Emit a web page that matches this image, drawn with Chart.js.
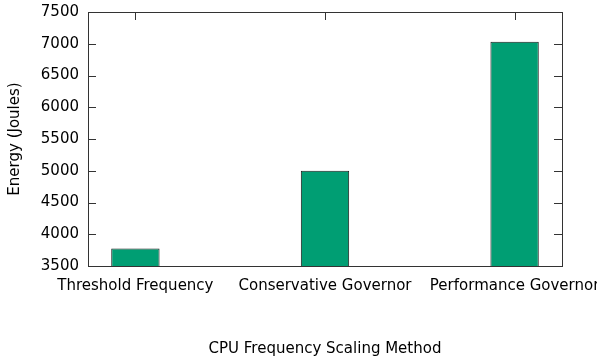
<!DOCTYPE html>
<html>
<head>
<meta charset="utf-8">
<script src="https://cdn.jsdelivr.net/npm/chart.js@4/dist/chart.umd.min.js"></script>
<style>
  html, body { margin: 0; padding: 0; background: #fff; }
  #wrap { width: 597px; height: 362px; position: relative; }
</style>
</head>
<body>
<div id="wrap"><canvas id="c" width="597" height="362"></canvas></div>
<script>
const categories = ["Threshold Frequency", "Conservative Governor", "Performance Governor"];
const energy = [3775, 5000, 7030];
const yTicks = [3500, 4000, 4500, 5000, 5500, 6000, 6500, 7000, 7500];
const xTitle = "CPU Frequency Scaling Method";
const yTitle = "Energy (Joules)";

const FONT = { family: "'DejaVu Sans', sans-serif", size: 15 };

const frame = {
  id: 'frame',
  beforeDatasetsDraw(chart) {
    const { ctx, chartArea: a, scales: { x, y } } = chart;
    ctx.save();
    ctx.strokeStyle = '#333';
    ctx.lineWidth = 1;
    ctx.beginPath();
    y.ticks.forEach(t => {
      const py = Math.round(y.getPixelForValue(t.value)) + 0.5;
      ctx.moveTo(a.left, py); ctx.lineTo(a.left + 8, py);
      ctx.moveTo(a.right, py); ctx.lineTo(a.right - 8, py);
    });
    x.ticks.forEach(t => {
      const px = Math.round(x.getPixelForValue(t.value)) + 0.5;
      ctx.moveTo(px, a.top); ctx.lineTo(px, a.top + 8);
      ctx.moveTo(px, a.bottom); ctx.lineTo(px, a.bottom - 8);
    });
    ctx.stroke();
    ctx.restore();
  },
  afterDatasetsDraw(chart) {
    const { ctx, chartArea: a } = chart;
    ctx.save();
    ctx.strokeStyle = '#333';
    ctx.lineWidth = 1;
    const l = Math.floor(a.left) + 0.5, t = Math.floor(a.top) + 0.5;
    const r = Math.floor(a.right) + 0.5, b = Math.floor(a.bottom) + 0.5;
    ctx.strokeRect(l, t, r - l, b - t);
    ctx.restore();
  }
};

new Chart(document.getElementById('c'), {
  type: 'bar',
  data: {
    datasets: [{
      data: energy.map((v, i) => ({ x: i, y: v })),
      backgroundColor: '#009E73',
      borderColor: '#1a1a1a',
      borderWidth: 1,
      borderSkipped: false,
      categoryPercentage: 1,
      barPercentage: 0.255
    }]
  },
  options: {
    responsive: false,
    animation: false,
    devicePixelRatio: 1,
    layout: { padding: { top: 12, right: 35, left: 0, bottom: 0 }, autoPadding: false },
    plugins: { legend: { display: false }, tooltip: { enabled: false } },
    scales: {
      x: {
        type: 'linear',
        min: -0.25,
        max: 2.25,
        offset: false,
        grid: { display: false, drawTicks: false },
        border: { display: false },
        afterBuildTicks(s) { s.ticks = categories.map((c, i) => ({ value: i })); },
        afterFit(s) { s.height = 96; s.paddingLeft = 0; s.paddingRight = 0; },
        ticks: {
          autoSkip: false,
          maxRotation: 0,
          padding: 11,
          color: '#000',
          font: FONT,
          callback: (v) => categories[v] ?? ''
        },
        title: { display: true, text: xTitle, color: '#000', font: FONT, padding: { top: 0, bottom: 4 } }
      },
      y: {
        min: yTicks[0],
        max: yTicks[yTicks.length - 1],
        grid: { display: false, drawTicks: false },
        border: { display: false },
        afterBuildTicks(s) { s.ticks = yTicks.map(v => ({ value: v })); },
        afterFit(s) { s.width = 88; s.paddingTop = 0; s.paddingBottom = 0; },
        ticks: { padding: 9, color: '#000', font: FONT, callback: (v) => String(v) },
        title: { display: true, text: yTitle, color: '#000', font: FONT, padding: { top: 6, bottom: 0 } }
      }
    }
  },
  plugins: [frame]
});
</script>
</body>
</html>
